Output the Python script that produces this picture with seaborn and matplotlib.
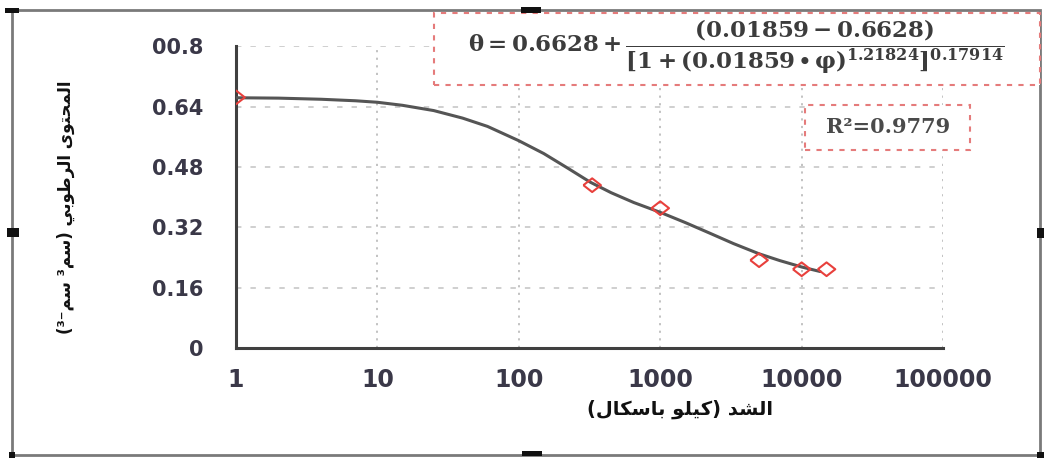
import matplotlib
matplotlib.use("Agg")
import matplotlib.pyplot as plt
import matplotlib.patches as mpatches
from matplotlib.ticker import FixedLocator, NullLocator
import seaborn as sns

# measured points (suction in kPa, volumetric moisture content)
suction_kpa = [1, 330, 1000, 5000, 10000, 15000]
moisture = [0.665, 0.432, 0.371, 0.233, 0.209, 0.209]

# fitted curve
fit_kpa = [1, 2, 4, 7, 10, 15, 25, 40, 60, 100, 150, 220, 320, 450, 650,
           1000, 1500, 2200, 3300, 5000, 7000, 10000, 13500]
fit_theta = [0.664, 0.663, 0.660, 0.656, 0.652, 0.644, 0.630, 0.610, 0.588, 0.550,
             0.516, 0.478, 0.440, 0.412, 0.386, 0.360, 0.333, 0.306, 0.277, 0.250,
             0.232, 0.215, 0.203]

x_ticks = [1, 10, 100, 1000, 10000, 100000]
x_tick_labels = ["1", "10", "100", "1000", "10000", "100000"]
y_ticks = [0, 0.16, 0.32, 0.48, 0.64, 0.8]
y_tick_labels = ["0", "0.16", "0.32", "0.48", "0.64", "00.8"]

x_title = "الشد (كيلو باسكال)"
y_title = "المحتوى الرطوبي (سم³ سم⁻³)"
eq_text = (r"$\theta = 0.6628 + \dfrac{(0.01859 - 0.6628)}"
           r"{[1 + (0.01859 \bullet \varphi)^{1.21824}]^{0.17914}}$")
r2_text = "R²=0.9779"

# matplotlib has no arabic shaping, so pick the joined glyph forms by hand
FORMS = {
    "ا": ("\uFE8D", "\uFE8E", None, None),
    "ب": ("\uFE8F", "\uFE90", "\uFE91", "\uFE92"),
    "ت": ("\uFE95", "\uFE96", "\uFE97", "\uFE98"),
    "ح": ("\uFEA1", "\uFEA2", "\uFEA3", "\uFEA4"),
    "د": ("\uFEA9", "\uFEAA", None, None),
    "ر": ("\uFEAD", "\uFEAE", None, None),
    "س": ("\uFEB1", "\uFEB2", "\uFEB3", "\uFEB4"),
    "ش": ("\uFEB5", "\uFEB6", "\uFEB7", "\uFEB8"),
    "ط": ("\uFEC1", "\uFEC2", "\uFEC3", "\uFEC4"),
    "ك": ("\uFED9", "\uFEDA", "\uFEDB", "\uFEDC"),
    "ل": ("\uFEDD", "\uFEDE", "\uFEDF", "\uFEE0"),
    "م": ("\uFEE1", "\uFEE2", "\uFEE3", "\uFEE4"),
    "و": ("\uFEED", "\uFEEE", None, None),
    "ى": ("\uFEEF", "\uFEF0", None, None),
    "ي": ("\uFEF1", "\uFEF2", "\uFEF3", "\uFEF4"),
}


def arabic(text):
    out = []
    for i, ch in enumerate(text):
        if ch not in FORMS:
            out.append(ch)
            continue
        iso, fin, ini, med = FORMS[ch]
        prev = text[i - 1] if i > 0 else ""
        nxt = text[i + 1] if i + 1 < len(text) else ""
        join_prev = prev in FORMS and FORMS[prev][2] is not None
        join_next = nxt in FORMS and ini is not None
        if join_prev and join_next:
            out.append(med)
        elif join_prev:
            out.append(fin)
        elif join_next:
            out.append(ini)
        else:
            out.append(iso)
    vis = "".join(reversed(out))
    return vis.translate(str.maketrans("()", ")("))


sns.set_style("white")
plt.rcParams["font.family"] = ["DejaVu Sans"]
plt.rcParams["mathtext.fontset"] = "dejavuserif"
plt.rcParams["mathtext.default"] = "bf"

fig = plt.figure(figsize=(10.44, 4.59), dpi=100)
ax = fig.add_axes([0.2261, 0.2418, 0.6772, 0.6569])

diamond = [(-1, 0), (0, 0.78), (1, 0), (0, -0.78), (-1, 0)]
sns.lineplot(x=fit_kpa, y=fit_theta, ax=ax, color="#555555", linewidth=2.2, zorder=3)
sns.scatterplot(x=suction_kpa, y=moisture, ax=ax, marker=diamond, s=160,
                facecolors="none", edgecolors="#e8403c", linewidth=1.5, zorder=4)

ax.set_xscale("log")
ax.set_xlim(1, 100000)
ax.set_ylim(0, 0.8)
ax.xaxis.set_major_locator(FixedLocator(x_ticks))
ax.xaxis.set_minor_locator(NullLocator())
ax.set_xticklabels(x_tick_labels)
ax.set_yticks(y_ticks)
ax.set_yticklabels(y_tick_labels)

ax.set_axisbelow(True)
ax.xaxis.grid(True, linestyle=(0, (1.2, 3)), color="#bdbdbd", linewidth=1.3)
ax.yaxis.grid(True, linestyle=(0, (3, 5)), color="#cccccc", linewidth=1.3)

for side in ["top", "right"]:
    ax.spines[side].set_visible(False)
for side in ["left", "bottom"]:
    ax.spines[side].set_color("#404040")
    ax.spines[side].set_linewidth(2.2)

ax.tick_params(axis="y", direction="inout", length=17, width=1.8, color="#333333",
               pad=15, labelsize=15, labelcolor="#3a3848")
ax.tick_params(axis="x", direction="inout", length=9, width=1.8, color="#333333",
               pad=10, labelsize=17, labelcolor="#3a3848")
for lab in ax.get_xticklabels() + ax.get_yticklabels():
    lab.set_fontweight("bold")

ax.set_xlabel(arabic(x_title), fontsize=14, fontweight="bold", color="#111111")
ax.xaxis.set_label_coords(0.628, -0.172)
ax.set_ylabel(arabic(y_title), fontsize=12, fontweight="bold", color="#111111")
ax.yaxis.set_label_coords(-0.228, 0.468)

# equation box and R2 box
W, H = 1044.0, 459.0
eq_box = mpatches.Rectangle((434 / W, 1 - 85 / H), (1040 - 434) / W, (85 - 13) / H,
                            transform=fig.transFigure, facecolor="white", edgecolor="#e57b7b",
                            linestyle=(0, (2.5, 3)), linewidth=1.5, zorder=5)
r2_box = mpatches.Rectangle((805 / W, 1 - 150 / H), (970 - 805) / W, (150 - 105) / H,
                            transform=fig.transFigure, facecolor="white", edgecolor="#e57b7b",
                            linestyle=(0, (2.5, 3)), linewidth=1.5, zorder=5)
fig.patches.extend([eq_box, r2_box])
fig.text(736 / W, 1 - 47 / H, eq_text, ha="center", va="center", fontsize=16.5,
         color="#3c3c3c", zorder=6)
fig.text(888 / W, 1 - 127 / H, r2_text, ha="center", va="center", fontsize=15,
         family="DejaVu Serif", fontweight="bold", color="#4a4a4a", zorder=6)

# outer frame with the small selection handles
frame = mpatches.Rectangle((12 / W, 1 - 455 / H), (1040 - 12) / W, (455 - 10) / H,
                           transform=fig.transFigure, facecolor="none", edgecolor="#7a7a7a",
                           linewidth=2, zorder=1)
fig.patches.append(frame)
handles = [(5, 8, 14, 5), (521, 7, 20, 6), (7, 228, 12, 9), (1037, 228, 7, 10),
           (522, 451, 20, 5), (9, 452, 6, 6), (1037, 452, 7, 6)]
for hx, hy, hw, hh in handles:
    fig.patches.append(mpatches.Rectangle((hx / W, 1 - (hy + hh) / H), hw / W, hh / H,
                                          transform=fig.transFigure, facecolor="#111111",
                                          edgecolor="none", zorder=7))

fig.savefig("out.png", dpi=100)
plt.close(fig)
